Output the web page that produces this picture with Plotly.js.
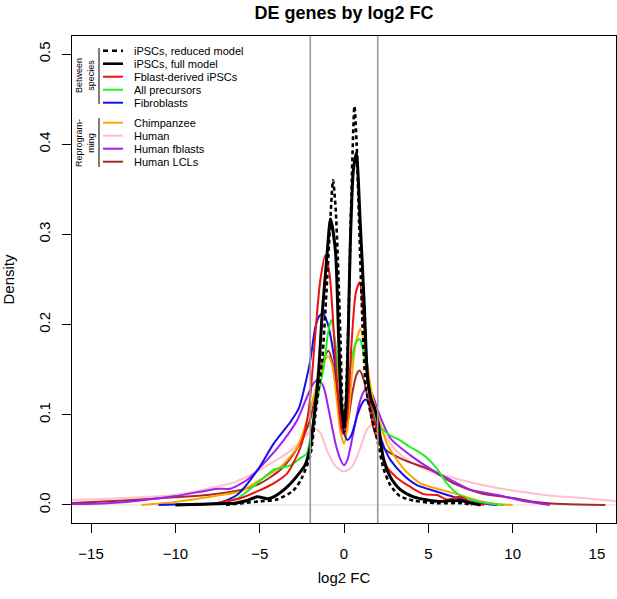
<!DOCTYPE html>
<html>
<head>
<meta charset="utf-8">
<script src="https://cdn.plot.ly/plotly-3.0.1.min.js"></script>
<style>html,body{margin:0;padding:0;background:#fff;}#chart{width:617px;height:599px;}</style>
</head>
<body>
<div id="chart"></div>
<script>
// ---- data ----
var seriesNames = ["iPSCs, reduced model","iPSCs, full model","Fblast-derived iPSCs","All precursors","Fibroblasts","Chimpanzee","Human","Human fblasts","Human LCLs"];

var reducedX = [-7.0,-6.0,-5.0,-4.0,-3.0,-2.5,-2.0,-1.7,-1.3,-1.0,-0.8,-0.65,-0.5,-0.37,-0.21,-0.1,0,0.12,0.3,0.42,0.62,0.75,0.9,1.1,1.3,1.6,2.0,2.35,2.75,3.3,4.1,5.5,7.0,7.6];
var reducedY = [0,0.002,0.004,0.006,0.016,0.03,0.055,0.1,0.16,0.25,0.32,0.36,0.33,0.275,0.183,0.11,0.08,0.12,0.23,0.33,0.442,0.40,0.31,0.2,0.13,0.1,0.07,0.04,0.022,0.01,0.005,0.002,0.002,0];

var fullX = [-10,-9,-8,-7,-6.5,-5.74,-5.15,-4.56,-4.17,-3.37,-2.58,-2.29,-2.0,-1.7,-1.5,-1.3,-1.0,-0.8,-0.51,-0.31,-0.15,0.02,0.15,0.38,0.55,0.73,0.97,1.21,1.4,1.6,1.8,2.0,2.35,2.75,3.34,4.13,5.52,6.9,7.5,8.1];
var fullY = [0,0.0005,0.001,0.0015,0.002,0.005,0.009,0.007,0.009,0.02,0.037,0.045,0.065,0.11,0.15,0.21,0.279,0.317,0.282,0.18,0.11,0.088,0.12,0.293,0.37,0.39,0.31,0.219,0.14,0.118,0.108,0.094,0.05,0.031,0.017,0.009,0.004,0.005,0.002,0];

var fblIpscX = [-9,-8,-7.3,-6.14,-5.15,-4.17,-3.37,-2.58,-2.19,-2.0,-1.7,-1.4,-1.1,-0.85,-0.6,-0.35,-0.15,0.0,0.2,0.45,0.7,0.93,1.15,1.35,1.6,2.0,2.55,3.15,3.94,4.73,5.52,6.1,6.9,7.5,8.3];
var fblIpscY = [0,0.001,0.003,0.0074,0.015,0.024,0.035,0.064,0.094,0.12,0.19,0.25,0.277,0.255,0.19,0.12,0.085,0.078,0.1,0.18,0.235,0.247,0.21,0.16,0.11,0.078,0.042,0.03,0.02,0.012,0.011,0.006,0.009,0.003,0];

var precursorsX = [-8.8,-7.5,-6.34,-5.15,-4.17,-3.18,-2.58,-2.2,-2.0,-1.7,-1.45,-1.2,-0.95,-0.77,-0.55,-0.3,-0.1,0.0,0.15,0.4,0.7,0.93,1.15,1.45,1.75,2.0,2.4,2.75,3.3,3.94,4.5,4.93,5.52,6.1,6.7,7.5,8.5,9.5];
var precursorsY = [0,0.002,0.007,0.024,0.039,0.044,0.052,0.057,0.075,0.105,0.13,0.153,0.19,0.205,0.185,0.14,0.108,0.103,0.115,0.155,0.18,0.184,0.17,0.135,0.105,0.09,0.082,0.077,0.072,0.064,0.058,0.052,0.04,0.024,0.013,0.006,0.002,0];

var fibroX = [-11,-9,-7.5,-6.34,-5.15,-4.17,-3.18,-2.68,-2.25,-2.0,-1.7,-1.45,-1.24,-0.95,-0.6,-0.3,0.0,0.2,0.45,0.8,1.05,1.27,1.5,1.75,2.0,2.4,2.75,3.54,4.33,5.52,6.5,7.5,8.5,9.1];
var fibroY = [0,0.001,0.002,0.011,0.038,0.068,0.092,0.107,0.138,0.16,0.197,0.21,0.212,0.2,0.165,0.115,0.08,0.072,0.078,0.1,0.112,0.117,0.112,0.098,0.085,0.063,0.05,0.033,0.022,0.0147,0.009,0.004,0.001,0];

var chimpX = [-12,-10.1,-8.5,-7.3,-6.14,-4.96,-3.77,-2.78,-2.19,-1.8,-1.45,-1.15,-0.94,-0.7,-0.45,-0.2,0.0,0.2,0.45,0.7,0.97,1.2,1.5,1.75,2.0,2.55,3.54,4.53,5.52,6.7,7.9,9.1,10];
var chimpY = [0,0.003,0.0074,0.011,0.015,0.028,0.042,0.064,0.094,0.12,0.145,0.16,0.165,0.155,0.12,0.08,0.068,0.085,0.14,0.18,0.195,0.18,0.14,0.115,0.1,0.068,0.04,0.024,0.018,0.012,0.005,0.001,0];

var humanX = [-16.2,-14,-12.07,-10.1,-8.1,-6.54,-5.35,-4.17,-3.18,-2.4,-2.0,-1.75,-1.4,-1.0,-0.5,0.0,0.5,1.0,1.4,1.76,2.1,2.5,3.0,4.0,5.0,6.5,8.5,10.5,12.5,14,16.2];
var humanY = [0.0055,0.007,0.0085,0.011,0.018,0.025,0.035,0.048,0.06,0.074,0.082,0.085,0.08,0.06,0.043,0.037,0.043,0.065,0.085,0.09,0.085,0.075,0.062,0.047,0.038,0.03,0.021,0.0147,0.01,0.008,0.004];

var humFblX = [-16.2,-14,-12.07,-10.1,-8.5,-7.5,-6.74,-5.74,-4.56,-3.57,-2.78,-2.19,-1.8,-1.5,-1.2,-0.9,-0.5,-0.2,0.0,0.2,0.5,0.9,1.15,1.4,1.7,2.0,2.75,3.94,5.13,6.3,7.5,9.1,10.5,11.5,12.2];
var humFblY = [0.001,0.002,0.005,0.0096,0.0147,0.018,0.018,0.028,0.05,0.072,0.094,0.12,0.135,0.139,0.13,0.105,0.068,0.05,0.044,0.05,0.075,0.112,0.125,0.13,0.122,0.105,0.074,0.055,0.04,0.028,0.017,0.011,0.005,0.002,0];

var humLclX = [-16.2,-14,-12.07,-10.1,-8.1,-6.14,-4.96,-3.77,-2.98,-2.4,-2.0,-1.5,-1.2,-0.92,-0.65,-0.35,-0.1,0.05,0.25,0.5,0.75,0.93,1.15,1.5,1.75,2.0,2.35,3.54,5.13,6.5,8.1,9.9,11.5,13,15.5];
var humLclY = [0.002,0.004,0.006,0.0085,0.011,0.0166,0.024,0.039,0.057,0.076,0.095,0.14,0.162,0.171,0.155,0.115,0.088,0.085,0.095,0.125,0.145,0.149,0.14,0.11,0.085,0.072,0.063,0.05,0.039,0.024,0.013,0.008,0.003,0.001,0.0];

var xTicks = [-15,-10,-5,0,5,10,15];
var yTicks = [0.0,0.1,0.2,0.3,0.4,0.5];
var yTickText = ["0.0","0.1","0.2","0.3","0.4","0.5"];
var cutoffs = [-2,2];

// ---- styling ----
var colors = ["#000000","#000000","#ee1111","#22ee22","#1111ee","#ffa500","#ffc0cb","#a020f0","#a52a2a"];
var widths = [2.6,3,2,2,2,2,2,2,2];
var dashes = ["4px,3px","solid","solid","solid","solid","solid","solid","solid","solid"];
var xs = [reducedX,fullX,fblIpscX,precursorsX,fibroX,chimpX,humanX,humFblX,humLclX];
var ys = [reducedY,fullY,fblIpscY,precursorsY,fibroY,chimpY,humanY,humFblY,humLclY];
var drawOrder = [6,8,7,5,4,3,2,1,0];

var traces = drawOrder.map(function(i){
  return {x: xs[i], y: ys[i], type: "scatter", mode: "lines", name: seriesNames[i],
    line: {color: colors[i], width: widths[i], dash: dashes[i], shape: "spline", smoothing: 0.7},
    hoverinfo: "skip", showlegend: false};
});

var L = 72, R = 616, T = 36, B = 523;
function px2x(p){ return (p - L) / (R - L); }
function py2y(p){ return (B - p) / (B - T); }

var shapes = [];
shapes.push({type:"line", xref:"paper", yref:"y", x0:0, x1:1, y0:0, y1:0, line:{color:"#dddddd", width:1}, layer:"below"});
cutoffs.forEach(function(c){
  shapes.push({type:"line", xref:"x", yref:"paper", x0:c, x1:c, y0:0, y1:1, line:{color:"#999999", width:1.6}, layer:"above"});
});

var annotations = [];
var rowsY = [50.7,63.7,76.7,89.7,102.7,122.7,135.7,148.7,161.7];
var legendDash = ["5px,4px","solid","solid","solid","solid","solid","solid","solid","solid"];
rowsY.forEach(function(py, i){
  shapes.push({type:"line", xref:"paper", yref:"paper", x0:px2x(103), x1:px2x(123), y0:py2y(py), y1:py2y(py),
    line:{color:colors[i], width: i<2 ? 2.6 : 2, dash: legendDash[i]}});
  annotations.push({xref:"paper", yref:"paper", x:px2x(132), y:py2y(py), xanchor:"left", yanchor:"middle",
    text: seriesNames[i], showarrow:false, font:{size:11, color:"#000"}});
});
shapes.push({type:"line", xref:"paper", yref:"paper", x0:px2x(99), x1:px2x(99), y0:py2y(48), y1:py2y(104), line:{color:"#000", width:1}});
shapes.push({type:"line", xref:"paper", yref:"paper", x0:px2x(99), x1:px2x(99), y0:py2y(118), y1:py2y(167), line:{color:"#000", width:1}});
annotations.push({xref:"paper", yref:"paper", x:px2x(85), y:py2y(76), xanchor:"center", yanchor:"middle",
  text:"Between<br>species", textangle:-90, showarrow:false, font:{size:9, color:"#000"}});
annotations.push({xref:"paper", yref:"paper", x:px2x(85), y:py2y(143), xanchor:"center", yanchor:"middle",
  text:"Reprogram-<br>ming", textangle:-90, showarrow:false, font:{size:9, color:"#000"}});

var layout = {
  width: 617, height: 599,
  margin: {l: L, r: 617 - R, t: T, b: 599 - B, pad: 0},
  paper_bgcolor: "#fff", plot_bgcolor: "#fff",
  font: {family: "Liberation Sans, Arial, Helvetica, sans-serif", size: 15, color: "#000"},
  title: {text: "<b>DE genes by log2 FC</b>", x: 0.5, xref: "paper", xanchor: "center", y: 0.979, yanchor: "middle", font: {size: 18, color: "#000"}},
  xaxis: {range: [-16.13, 16.13], tickvals: xTicks, ticktext: ["\u221215","\u221210","\u22125","0","5","10","15"],
    ticks: "outside", ticklen: 9, tickwidth: 1, tickcolor: "#000", showline: true, linecolor: "#000", linewidth: 1, mirror: true,
    showgrid: false, zeroline: false, ticklabelstandoff: 8,
    title: {text: "log2 FC", standoff: 11, font: {size: 15}}},
  yaxis: {range: [-0.02, 0.52], tickvals: yTicks, ticktext: yTickText, tickangle: -90,
    ticks: "outside", ticklen: 9, tickwidth: 1, tickcolor: "#000", showline: true, linecolor: "#000", linewidth: 1, mirror: true,
    showgrid: false, zeroline: false, ticklabelstandoff: 6,
    title: {text: "Density", standoff: 18, font: {size: 15}}},
  shapes: shapes,
  annotations: annotations,
  showlegend: false
};

Plotly.newPlot("chart", traces, layout, {displayModeBar: false, staticPlot: true});
</script>
</body>
</html>
